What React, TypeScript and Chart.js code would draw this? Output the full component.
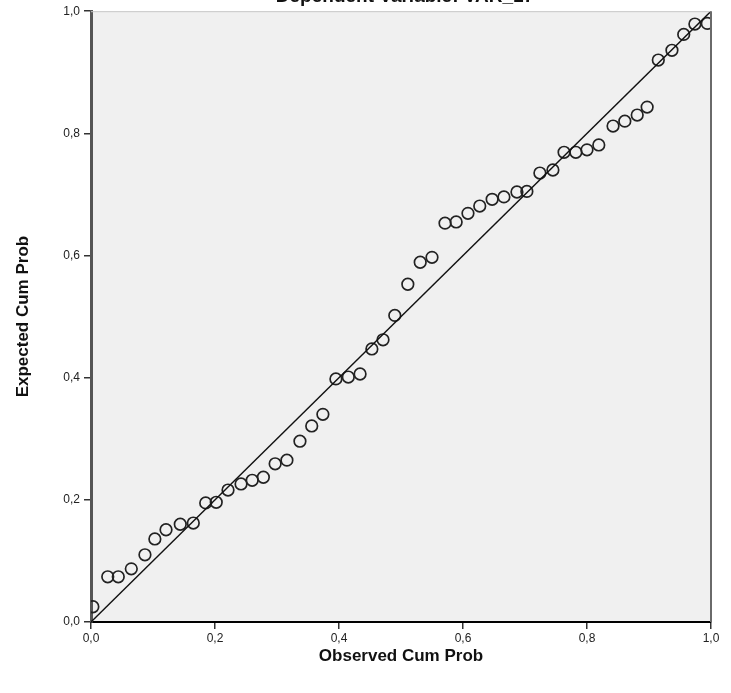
import React, { useEffect, useRef } from "react";
import { Chart, registerables } from "chart.js";

Chart.register(...registerables);

const titleText = "Dependent Variable: VAR_17";
const xTitle = "Observed Cum Prob";
const yTitle = "Expected Cum Prob";
const tickValues = [0, 0.2, 0.4, 0.6, 0.8, 1.0];

const observedCum = [0.003, 0.027, 0.044, 0.065, 0.087, 0.103, 0.121, 0.144, 0.165, 0.185, 0.202, 0.221, 0.242, 0.260, 0.278, 0.297, 0.316, 0.337, 0.356, 0.374, 0.395, 0.415, 0.434, 0.453, 0.471, 0.490, 0.511, 0.531, 0.550, 0.571, 0.589, 0.608, 0.627, 0.647, 0.666, 0.687, 0.703, 0.724, 0.745, 0.763, 0.782, 0.800, 0.819, 0.842, 0.861, 0.881, 0.897, 0.915, 0.937, 0.956, 0.974, 0.994];
const expectedCum = [0.025, 0.074, 0.074, 0.087, 0.110, 0.136, 0.151, 0.160, 0.162, 0.195, 0.196, 0.216, 0.226, 0.232, 0.237, 0.259, 0.265, 0.296, 0.321, 0.340, 0.398, 0.401, 0.406, 0.447, 0.462, 0.502, 0.553, 0.589, 0.597, 0.653, 0.655, 0.669, 0.681, 0.692, 0.696, 0.704, 0.705, 0.735, 0.740, 0.769, 0.769, 0.773, 0.781, 0.812, 0.820, 0.830, 0.843, 0.920, 0.936, 0.962, 0.979, 0.980];
const refLine = [0, 1];

const fmt = (v: number) => v.toFixed(1).replace(".", ",");

export default function App() {
  const ref = useRef<HTMLCanvasElement | null>(null);
  useEffect(() => {
    if (!ref.current) return;
    const bgPlugin = {
      id: "bgPlugin",
      beforeDraw(chart: any) {
        const { ctx, chartArea } = chart;
        ctx.save();
        ctx.fillStyle = "#f0f0f0";
        ctx.fillRect(chartArea.left, chartArea.top, chartArea.right - chartArea.left, chartArea.bottom - chartArea.top);
        ctx.restore();
      },
      afterDraw(chart: any) {
        const { ctx, chartArea } = chart;
        ctx.save();
        ctx.strokeStyle = "#c8c8c8";
        ctx.lineWidth = 1;
        ctx.beginPath();
        ctx.moveTo(chartArea.left, chartArea.top + 0.5);
        ctx.lineTo(chartArea.right, chartArea.top + 0.5);
        ctx.stroke();
        ctx.strokeStyle = "#6a6a6a";
        ctx.lineWidth = 2;
        ctx.beginPath();
        ctx.moveTo(chartArea.right, chartArea.top);
        ctx.lineTo(chartArea.right, chartArea.bottom);
        ctx.stroke();
        ctx.fillStyle = "#111";
        ctx.font = "bold 19px 'Liberation Sans', Arial, sans-serif";
        ctx.textAlign = "center";
        ctx.textBaseline = "alphabetic";
        ctx.fillText(titleText, 405, 2);
        ctx.restore();
      },
    };
    const chart = new Chart(ref.current, {
      type: "scatter",
      data: {
        datasets: [
          {
            type: "line",
            data: refLine.map((v) => ({ x: v, y: v })),
            borderColor: "#111",
            borderWidth: 1.4,
            pointRadius: 0,
            fill: false,
            order: 0,
          } as any,
          {
            data: observedCum.map((x, i) => ({ x, y: expectedCum[i] })),
            pointStyle: "circle",
            pointRadius: 5.8,
            pointBorderWidth: 1.7,
            borderColor: "#222",
            backgroundColor: "rgba(0,0,0,0)",
            order: 1,
          },
        ],
      },
      options: {
        animation: false,
        responsive: false,
        devicePixelRatio: 1,
        layout: { padding: { left: 0, right: 20, top: 11, bottom: 0 } },
        plugins: { legend: { display: false }, tooltip: { enabled: false }, title: { display: false } },
        scales: {
          x: {
            type: "linear",
            min: 0,
            max: 1,
            afterBuildTicks: (s: any) => { s.ticks = tickValues.map((v) => ({ value: v })); },
            afterFit: (s: any) => { s.height = 71; },
            ticks: {
              callback: (v: any) => fmt(Number(v)),
              color: "#222",
              font: { family: "'Liberation Sans', Arial, sans-serif", size: 12 },
              padding: 2,
              maxRotation: 0,
            },
            grid: { drawOnChartArea: false, drawTicks: true, tickLength: 7, color: "#333", lineWidth: 1.5 },
            border: { display: true, color: "#000", width: 2 },
            title: {
              display: true,
              text: xTitle,
              color: "#111",
              font: { family: "'Liberation Sans', Arial, sans-serif", size: 17, weight: "bold" },
              padding: { top: 0, bottom: 26 },
            },
          },
          y: {
            type: "linear",
            min: 0,
            max: 1,
            afterBuildTicks: (s: any) => { s.ticks = tickValues.map((v) => ({ value: v })); },
            afterFit: (s: any) => { s.width = 91; },
            ticks: {
              callback: (v: any) => fmt(Number(v)),
              color: "#222",
              font: { family: "'Liberation Sans', Arial, sans-serif", size: 12 },
              padding: 4,
            },
            grid: { drawOnChartArea: false, drawTicks: true, tickLength: 7, color: "#333", lineWidth: 1.5 },
            border: { display: true, color: "#555", width: 3 },
            title: {
              display: true,
              text: yTitle,
              color: "#111",
              font: { family: "'Liberation Sans', Arial, sans-serif", size: 17, weight: "bold" },
              padding: { top: 13, bottom: 0 },
            },
          },
        },
      },
      plugins: [bgPlugin],
    } as any);
    return () => chart.destroy();
  }, []);
  return (
    <canvas
      ref={ref}
      width={731}
      height={693}
      style={{ position: "fixed", left: 0, top: 0, width: 731, height: 693, display: "block", background: "#fff" }}
    />
  );
}
